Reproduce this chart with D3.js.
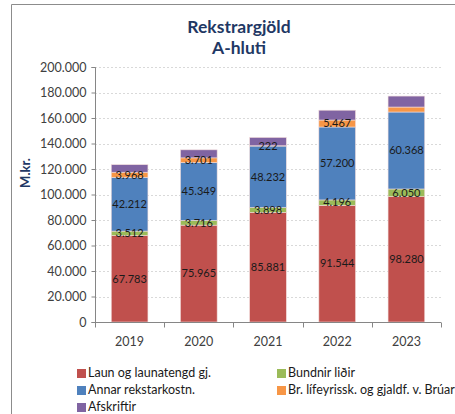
<!DOCTYPE html>
<html>
<head>
<meta charset="utf-8">
<script src="https://cdn.jsdelivr.net/npm/d3@7"></script>
<style>
  html, body { margin: 0; padding: 0; background: #fff; }
  svg { display: block; font-family: Lato, "Open Sans", sans-serif; }
</style>
</head>
<body>
<svg id="chart" width="455" height="414"></svg>
<script>
// Rekstrargjöld A-hluta, m.kr.
const years = ["2019", "2020", "2021", "2022", "2023"];
const seriesNames = [
  "Laun og launatengd gj.",
  "Bundnir liðir",
  "Annar rekstarkostn.",
  "Br. lífeyrissk. og gjaldf. v. Brúar",
  "Afskriftir"
];
const laun      = [67783, 75965, 85881, 91544, 98280];
const bundnir   = [3512, 3716, 3898, 4196, 6050];
const annar     = [42212, 45349, 48232, 57200, 60368];
const lifeyris  = [3968, 3701, 222, 5467, 3900];
const afskriftir= [5900, 6300, 6500, 7700, 8600];
// labels shown on segments (null = no label)
const showLabel = [
  [true, true, true, true, true],
  [true, true, true, true, true],
  [true, true, true, true, true],
  [true, true, true, true, false],
  [false, false, false, false, false]
];
const yTicks = [0, 20000, 40000, 60000, 80000, 100000, 120000, 140000, 160000, 180000, 200000];
const colors = ["#c0504d", "#9bbb59", "#4f81bd", "#f79646", "#8064a2"];

const seriesValues = [laun, bundnir, annar, lifeyris, afskriftir];
const table = years.map((y, i) => {
  const row = { year: y };
  seriesNames.forEach((s, k) => row[s] = seriesValues[k][i]);
  return row;
});

const svg = d3.select("#chart");
const fmt = v => d3.format(",")(v).replace(/,/g, ".");

// outer frame
svg.append("path")
  .attr("d", "M11.5,414 V4.5 H455")
  .attr("fill", "none").attr("stroke", "#8c8c8c").attr("stroke-width", 1);

const x0 = 95, x1 = 441, yTop = 67, yBot = 322;
const x = d3.scaleBand().domain(years).range([x0, x1]).paddingInner(0.47).paddingOuter(0.235);
const y = d3.scaleLinear().domain([0, 200000]).range([yBot, yTop]);

// gridlines
svg.append("g").selectAll("line").data(yTicks.filter(t => t > 0)).join("line")
  .attr("x1", x0).attr("x2", x1)
  .attr("y1", d => Math.round(y(d)) + 0.5).attr("y2", d => Math.round(y(d)) + 0.5)
  .attr("stroke", "#d9d9d9").attr("stroke-dasharray", "2,2");

// stacked bars
const stack = d3.stack().keys(seriesNames)(table);
const g = svg.append("g");
stack.forEach((layer, k) => {
  g.append("g").selectAll("rect").data(layer).join("rect")
    .attr("x", d => x(d.data.year))
    .attr("width", x.bandwidth())
    .attr("y", d => y(d[1]))
    .attr("height", d => y(d[0]) - y(d[1]))
    .attr("fill", colors[k])
    .attr("stroke", "#f2dcdb").attr("stroke-width", 0.6);
});

// segment labels
stack.forEach((layer, k) => {
  g.append("g").selectAll("text").data(layer.filter((d, i) => showLabel[k][i])).join("text")
    .attr("x", d => x(d.data.year) + x.bandwidth() / 2)
    .attr("y", d => (y(d[0]) + y(d[1])) / 2)
    .attr("dy", "0.35em")
    .attr("text-anchor", "middle")
    .attr("font-size", 11)
    .attr("fill", "#1a1a1a")
    .text(d => fmt(d[1] - d[0]));
});

// y axis
const yAxis = d3.axisLeft(y).tickValues(yTicks).tickSize(4).tickPadding(5).tickFormat(fmt);
const ya = svg.append("g").attr("transform", `translate(${x0 + 0.5},0)`).call(yAxis);
ya.select(".domain").attr("stroke", "#868686").attr("d", `M-4,${yTop + 0.5}H0V${yBot + 0.5}H-4`);
ya.selectAll(".tick line").attr("stroke", "#868686");
ya.selectAll(".tick text").attr("font-size", 12.5).attr("fill", "#404040").attr("font-family", "Lato, sans-serif");

// x axis
const xa = svg.append("g").attr("transform", `translate(0,${yBot + 0.5})`);
xa.append("line").attr("x1", x0).attr("x2", x1).attr("stroke", "#868686");
const bounds = years.map((yr, i) => x0 + i * (x1 - x0) / years.length).concat([x1]);
xa.selectAll(".tk").data(bounds).join("line")
  .attr("x1", d => Math.round(d) + 0.5).attr("x2", d => Math.round(d) + 0.5)
  .attr("y1", 0).attr("y2", 5).attr("stroke", "#868686");
xa.selectAll("text").data(years).join("text")
  .attr("x", d => x(d) + x.bandwidth() / 2)
  .attr("y", 23)
  .attr("text-anchor", "middle")
  .attr("font-size", 12.5).attr("fill", "#404040")
  .text(d => d);

// title
const title = svg.append("text").attr("text-anchor", "middle")
  .attr("font-weight", "bold").attr("font-size", 17.5).attr("fill", "#1f3864");
title.append("tspan").attr("x", 239).attr("y", 33).text("Rekstrargjöld");
title.append("tspan").attr("x", 239).attr("y", 54).text("A-hluti");

// y label
svg.append("text")
  .attr("transform", "translate(30,173) rotate(-90)")
  .attr("text-anchor", "middle")
  .attr("font-weight", "bold").attr("font-size", 13).attr("fill", "#1f3864")
  .text("M.kr.");

// legend
const legendPos = [
  [77, 373], [277, 373],
  [77, 390], [277, 390],
  [77, 407]
];
const lg = svg.append("g").selectAll("g").data(seriesNames).join("g")
  .attr("transform", (d, i) => `translate(${legendPos[i][0]},${legendPos[i][1]})`);
lg.append("rect").attr("x", 0).attr("y", -4).attr("width", 9).attr("height", 9)
  .attr("fill", (d, i) => colors[i]);
lg.append("text").attr("x", 11).attr("y", 0).attr("dy", "0.35em")
  .attr("font-size", 12.5).attr("fill", "#1a1a1a").text(d => d);
</script>
</body>
</html>
